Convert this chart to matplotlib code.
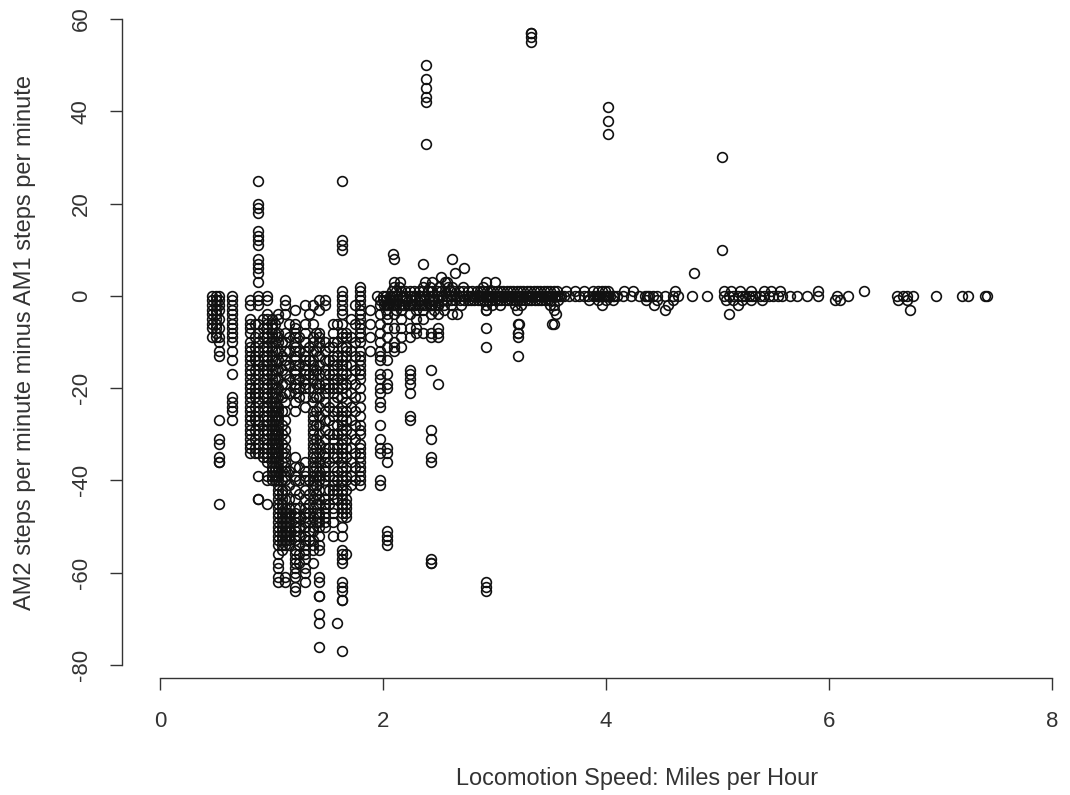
import matplotlib
matplotlib.use("Agg")
import matplotlib.pyplot as plt

plt.rcParams['font.family'] = ['Liberation Sans', 'DejaVu Sans']
plt.rcParams['axes.unicode_minus'] = False

x_label = "Locomotion Speed: Miles per Hour"
y_label = "AM2 steps per minute minus AM1 steps per minute"
x_ticks = [0, 2, 4, 6, 8]
y_ticks = [-80, -60, -40, -20, 0, 20, 40, 60]

# Columns of readings at the low speeds
c047 = [0, -1, -2, -3, -4, -5, -6, -7, -9]
c050 = [0, -1, -2, -3, -4, -5, -6, -7, -8, -9]
c053 = [0, -1, -2, -3, -5, -7, -9, -10, -12, -13, -27, -31, -32, -35, -36, -36, -45]
c065 = [0, -1, -2, -3, -4, -5, -6, -7, -8, -9, -10, -12, -14, -17, -22, -23, -24, -25, -27]
c081 = [-1, -2, -5, -6, -7, -8, -10, -11, -12, -13, -14, -15, -16, -17, -18, -19, -20, -21, -22, -23, -24, -25, -26, -27, -28, -29, -30, -31, -32, -33, -34]
c085 = [-6, -9, -11, -13, -14, -16, -18, -20, -21, -22, -24, -26, -27, -29, -31, -33, -34]
c088 = [25, 20, 19, 18, 14, 13, 12, 11, 8, 7, 6, 5, 3, 0, -1, -2, -6, -8, -10, -12, -14, -15, -17, -19, -21, -23, -25, -27, -28, -30, -32, -34, -39, -44, -44]
c092 = [-5, -7, -9, -11, -13, -15, -16, -18, -20, -22, -24, -26, -28, -29, -31, -33, -34, -35]
c096 = [0, -1, -4, -5, -6, -7, -8, -9, -10, -11, -12, -13, -14, -15, -16, -17, -18, -19, -20, -21, -22, -23, -24, -25, -26, -27, -28, -29, -30, -31, -32, -33, -34, -35, -36, -39, -40, -45]
c100 = [-5, -6, -7, -8, -9, -10, -11, -12, -13, -14, -15, -16, -17, -18, -19, -20, -21, -22, -23, -24, -25, -26, -27, -28, -29, -30, -31, -32, -33, -34, -35, -36, -37, -38, -39, -40]
c103 = [-6, -8, -10, -12, -14, -16, -18, -20, -21, -22, -23, -24, -25, -26, -27, -28, -29, -30, -31, -32, -33, -34, -35, -36, -37, -38, -39, -40]
c106 = [-4, -5, -8, -9, -10, -12, -14, -16, -18, -20, -22, -24, -25, -26, -27, -28, -29, -30, -31, -32, -33, -34, -35, -36, -37, -38, -39, -40, -41, -42, -43, -44, -45, -46, -47, -48, -49, -50, -51, -52, -53, -54, -56, -58, -59, -61, -62]
c109 = [-10, -13, -16, -19, -22, -25, -28, -30, -32, -34, -36, -38, -40, -42, -43, -44, -45, -46, -47, -48, -49, -50, -51, -52, -53, -54, -55]
c112 = [-1, -2, -4, -8, -10, -12, -14, -15, -17, -19, -21, -23, -25, -27, -29, -31, -33, -34, -35, -36, -37, -38, -39, -40, -42, -44, -46, -47, -48, -49, -50, -51, -52, -53, -54, -61, -62]
c116 = [-6, -9, -12, -15, -18, -21, -38, -41, -44, -46, -47, -48, -49, -50, -51, -52, -53, -54]
c121 = [-3, -6, -7, -8, -9, -10, -11, -12, -13, -14, -15, -16, -17, -18, -19, -20, -21, -23, -25, -35, -37, -39, -40, -42, -44, -46, -47, -48, -49, -50, -51, -52, -53, -55, -56, -57, -58, -59, -60, -61, -63, -64]
c125 = [-9, -12, -15, -18, -20, -22, -37, -40, -43, -46, -48, -50, -52, -54, -56, -58]
c130 = [-2, -6, -8, -10, -12, -13, -14, -15, -16, -17, -18, -19, -20, -22, -24, -36, -38, -39, -40, -42, -44, -46, -47, -48, -49, -50, -52, -53, -54, -55, -56, -57, -59, -60, -62]
c134 = [-4, -11, -14, -17, -20, -40, -43, -45, -47, -49, -51, -53]
c137 = [-2, -6, -9, -10, -12, -14, -15, -16, -17, -18, -20, -22, -23, -25, -26, -27, -28, -29, -30, -31, -32, -33, -34, -35, -36, -37, -38, -39, -40, -41, -42, -44, -46, -48, -50, -51, -53, -54, -55, -58]
c140 = [-8, -12, -16, -19, -22, -25, -28, -31, -33, -35, -37, -39, -41, -43, -45, -47, -49]
c143 = [-1, -3, -8, -9, -10, -11, -13, -15, -17, -19, -20, -22, -24, -26, -28, -30, -32, -34, -36, -38, -39, -40, -42, -44, -45, -47, -48, -49, -50, -52, -54, -55, -61, -62, -65, -65, -69, -71, -76]
c148 = [-1, -2, -10, -12, -14, -16, -17, -19, -20, -21, -23, -25, -27, -29, -31, -33, -34, -35, -36, -37, -38, -39, -40, -42, -44, -45, -46, -47, -48, -49, -50]
c152 = [-11, -14, -17, -20, -24, -27, -30, -33, -36, -39, -42, -45]
c155 = [-6, -8, -10, -11, -13, -14, -15, -16, -17, -18, -19, -20, -21, -23, -25, -26, -28, -30, -31, -33, -34, -35, -37, -39, -40, -41, -42, -43, -44, -46, -47, -49, -52]
c159 = [-6, -10, -13, -15, -18, -20, -22, -25, -28, -30, -33, -35, -38, -40, -42, -44, -71]
c163 = [25, 12, 11, 10, 1, 0, -1, -2, -3, -4, -6, -8, -9, -11, -13, -14, -15, -16, -17, -18, -19, -20, -22, -24, -25, -26, -27, -28, -29, -30, -31, -32, -33, -34, -35, -36, -37, -38, -39, -40, -41, -42, -43, -44, -45, -46, -47, -48, -50, -52, -55, -56, -57, -58, -62, -63, -64, -66, -66, -77]
c167 = [-8, -9, -11, -12, -13, -15, -17, -19, -21, -23, -25, -27, -29, -31, -33, -35, -37, -39, -40, -42, -44, -45, -46, -47, -48, -56]
c171 = [-5, -9, -12, -15, -18, -21, -24, -27, -30, -33, -36, -39, -41]
c175 = [-2, -6, -10, -13, -16, -19, -22, -25, -28, -31, -34, -37, -40]
c179 = [2, 1, 0, -1, -2, -3, -4, -5, -6, -7, -8, -9, -10, -12, -13, -14, -15, -16, -17, -18, -20, -22, -24, -26, -28, -29, -30, -32, -33, -34, -35, -36, -37, -38, -39, -40, -41]
c188 = [-3, -6, -9, -12]
c197 = [-1, -2, -4, -6, -8, -10, -12, -13, -14, -17, -18, -20, -21, -23, -24, -28, -31, -33, -34, -40, -41]
c204 = [-2, -4, -5, -7, -9, -11, -14, -17, -19, -20, -33, -34, -36, -51, -52, -53, -54]
c210 = [-2, -4, -7, -10, -11, -12]
c216 = [-3, -5, -7, -9, -11]
c224 = [-2, -4, -7, -9, -16, -17, -18, -19, -21, -26, -27]
c230 = [-3, -5, -7, -8]
c236 = [-3, -5, -8]
c243 = [-2, -4, -8, -9, -16, -29, -31, -35, -36, -57, -58, -58]
c249 = [-2, -4, -7, -8, -9, -19]
c239 = [50, 47, 45, 43, 42, 33]
c292 = [-3, -7, -11, -62, -63, -64]
c333 = [57, 57, 56, 55]
c402 = [41, 38, 35]
c504 = [30, 10]
c321 = [-6, -8, -9, -13]
c353 = [-2, -3, -6]

columns = [(0.47, c047), (0.50, c050), (0.53, c053), (0.65, c065), (0.81, c081), (0.85, c085),
           (0.88, c088), (0.92, c092), (0.96, c096), (1.00, c100), (1.03, c103), (1.06, c106),
           (1.09, c109), (1.12, c112), (1.16, c116), (1.21, c121), (1.25, c125), (1.30, c130),
           (1.34, c134), (1.37, c137), (1.40, c140), (1.43, c143), (1.48, c148), (1.52, c152),
           (1.55, c155), (1.59, c159), (1.63, c163), (1.67, c167), (1.71, c171), (1.75, c175),
           (1.79, c179), (1.88, c188), (1.97, c197), (2.04, c204), (2.10, c210), (2.16, c216),
           (2.24, c224), (2.30, c230), (2.36, c236), (2.43, c243), (2.49, c249), (2.39, c239),
           (2.92, c292), (3.33, c333), (4.02, c402), (5.04, c504), (3.21, c321), (3.53, c353)]

# Speeds at each value of the near-zero band
band_zero = [1.95, 2.00, 2.03, 2.06, 2.09, 2.12, 2.15, 2.18, 2.21, 2.24, 2.27, 2.30, 2.33, 2.36, 2.39, 2.42, 2.45, 2.48, 2.51, 2.54, 2.57, 2.60, 2.63, 2.66, 2.69, 2.72, 2.75, 2.78, 2.80, 2.82, 2.84, 2.86, 2.88, 2.90, 2.92, 2.94, 2.96, 2.98, 3.00, 3.02, 3.04, 3.06, 3.08, 3.10, 3.12, 3.14, 3.16, 3.18, 3.20, 3.22, 3.24, 3.26, 3.28, 3.30, 3.32, 3.34, 3.36, 3.38, 3.40, 3.42, 3.44, 3.46, 3.48, 3.50, 3.52, 3.54, 3.56, 3.58, 3.60, 3.62, 3.67, 3.72, 3.76, 3.80, 3.84, 3.88, 3.90, 3.92, 3.94, 3.95, 3.96, 3.98, 4.00, 4.01, 4.02, 4.04, 4.06, 4.07, 4.10, 4.15, 4.22, 4.30, 4.35, 4.37, 4.39, 4.42, 4.46, 4.53, 4.60, 4.65, 4.77, 4.91, 5.06, 5.10, 5.14, 5.18, 5.22, 5.25, 5.28, 5.31, 5.34, 5.38, 5.42, 5.46, 5.50, 5.54, 5.58, 5.65, 5.71, 5.80, 5.90, 6.07, 6.17, 6.61, 6.66, 6.70, 6.75, 6.96, 7.19, 7.25, 7.42, 7.40]
band_plus1 = [2.08, 2.12, 2.16, 2.20, 2.24, 2.28, 2.32, 2.36, 2.40, 2.44, 2.48, 2.52, 2.56, 2.60, 2.64, 2.68, 2.72, 2.76, 2.80, 2.84, 2.87, 2.90, 2.93, 2.96, 2.99, 3.02, 3.05, 3.08, 3.11, 3.14, 3.17, 3.20, 3.23, 3.26, 3.29, 3.32, 3.35, 3.38, 3.41, 3.44, 3.47, 3.50, 3.53, 3.56, 3.64, 3.72, 3.80, 3.88, 3.93, 3.96, 3.99, 4.02, 4.16, 4.24, 4.62, 5.06, 5.12, 5.20, 5.30, 5.42, 5.48, 5.56, 5.90]
band_minus1 = [2.00, 2.03, 2.06, 2.09, 2.13, 2.17, 2.21, 2.25, 2.29, 2.33, 2.37, 2.41, 2.45, 2.49, 2.53, 2.57, 2.61, 2.65, 2.69, 2.73, 2.76, 2.79, 2.82, 2.85, 2.88, 2.91, 2.94, 2.97, 3.00, 3.03, 3.06, 3.09, 3.12, 3.15, 3.18, 3.21, 3.24, 3.27, 3.30, 3.33, 3.36, 3.39, 3.42, 3.45, 3.48, 3.51, 3.57, 3.85, 3.93, 4.00, 4.06, 4.36, 4.46, 4.60, 5.08, 5.14, 5.22, 5.30, 5.40, 6.05, 6.10, 6.62, 6.70]
band_minus2 = [2.01, 2.03, 2.05, 2.07, 2.09, 2.12, 2.14, 2.17, 2.19, 2.22, 2.24, 2.27, 2.29, 2.32, 2.34, 2.37, 2.39, 2.42, 2.44, 2.47, 2.49, 2.55, 2.61, 2.70, 2.92, 2.98, 3.05, 3.18, 3.24, 3.50, 3.96, 4.43, 4.56, 5.18]
band_plus2 = [2.10, 2.14, 2.36, 2.42, 2.50, 2.58, 2.62, 2.72, 2.90]
band_plus3 = [2.10, 2.15, 2.38, 2.44, 2.56, 2.92, 3.00]
band_minus3 = [2.03, 2.12, 2.46, 2.55, 2.92, 3.20, 4.53, 6.73]
band_minus4 = [2.62, 2.66, 5.10, 3.55]
band_other_x = [2.09, 2.10, 2.36, 2.52, 2.62, 2.65, 2.73, 2.57, 4.79, 6.31, 3.52, 3.22, 3.21]
band_other_y = [9, 8, 7, 4, 8, 5, 6, 3, 5, 1, -6, -6, -8]

fig = plt.figure(figsize=(10.7, 7.95), dpi=100)
L, R, T, B = 160, 1052, 19, 665
ax = fig.add_axes([L / 1070, 1 - B / 795, (R - L) / 1070, (B - T) / 795])
ax.set_xlim(0, 8)
ax.set_ylim(-80, 60)

style = dict(linestyle='none', marker='o', markersize=7.0, markerfacecolor='none',
             markeredgecolor='#111111', markeredgewidth=1.2, clip_on=False)

for speed, values in columns:
    ax.plot([speed] * len(values), values, **style)
for speeds, value in [(band_zero, 0), (band_plus1, 1), (band_minus1, -1), (band_minus2, -2),
                      (band_plus2, 2), (band_plus3, 3), (band_minus3, -3), (band_minus4, -4)]:
    ax.plot(speeds, [value] * len(speeds), **style)
ax.plot(band_other_x, band_other_y, **style)

for side in ('top', 'right'):
    ax.spines[side].set_visible(False)
ax.spines['left'].set_position(('outward', 27.4))
ax.spines['bottom'].set_position(('outward', 9.4))
for side in ('left', 'bottom'):
    ax.spines[side].set_linewidth(1.0)
    ax.spines[side].set_color('#333333')

ax.set_xticks(x_ticks)
ax.set_yticks(y_ticks)
ax.tick_params(axis='both', length=8.6, width=1.0, color='#333333', labelcolor='#333333', labelsize=16)
ax.tick_params(axis='x', pad=15)
ax.tick_params(axis='y', pad=13)
for lab in ax.get_yticklabels():
    lab.set_rotation(90)
    lab.set_va('center')

fig.text(637 / 1070, 1 - 778 / 795, x_label, ha='center', va='center', fontsize=16.9, color='#333333')
fig.text(25 / 1070, 1 - 343 / 795, y_label, ha='center', va='center', rotation=90, fontsize=17.0, color='#333333')

fig.savefig('out.png', dpi=100)
